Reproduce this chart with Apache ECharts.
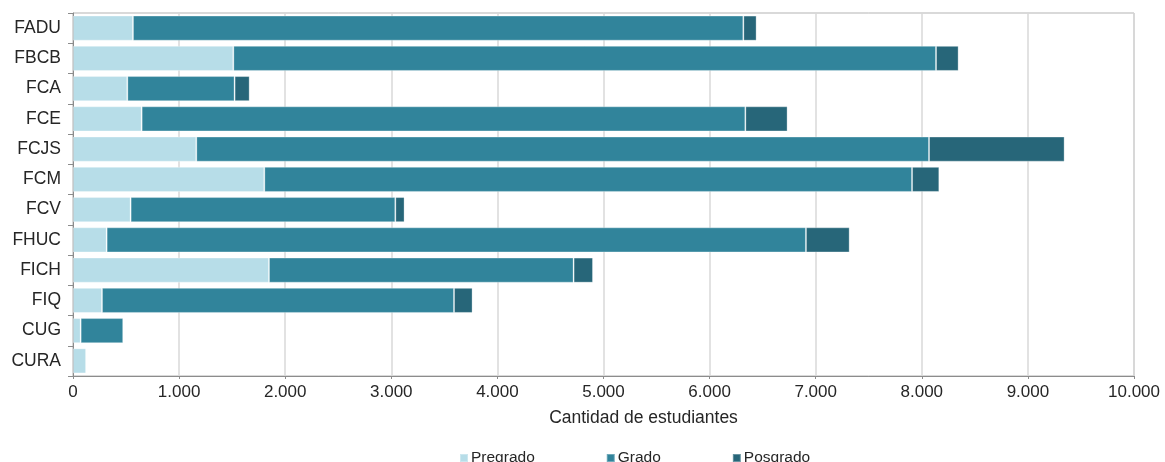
<!DOCTYPE html>
<html>
<head>
<meta charset="utf-8">
<script src="https://cdn.jsdelivr.net/npm/echarts@6/dist/echarts.min.js"></script>
<style>
    html, body { margin: 0; padding: 0; background: #fff; }
    #chart { width: 1165px; height: 462px; }
</style>
</head>
<body>
<div id="chart"></div>
<script>
var facultades = ['FADU', 'FBCB', 'FCA', 'FCE', 'FCJS', 'FCM', 'FCV', 'FHUC', 'FICH', 'FIQ', 'CUG', 'CURA'];
var pregrado = [565, 1511, 512, 647, 1162, 1803, 543, 317, 1847, 273, 72, 125];
var grado = [5753, 6623, 1011, 5690, 6906, 6105, 2495, 6591, 2871, 3318, 402, 0];
var posgrado = [125, 213, 142, 398, 1278, 257, 87, 412, 183, 175, 0, 0];

var colores = {
    pregrado: '#b7dde8',
    grado: '#31849b',
    posgrado: '#276679'
};

function miles(v) {
    return String(v).replace(/\B(?=(\d{3})+(?!\d))/g, '.');
}

function serie(nombre, datos, color) {
    return {
        name: nombre,
        type: 'bar',
        stack: 'total',
        barCategoryGap: '17%',
        itemStyle: {
            color: color,
            borderColor: 'rgba(255,255,255,0.3)',
            borderWidth: 1
        },
        data: datos
    };
}

var myChart = echarts.init(document.getElementById('chart'));

var option = {
    animation: false,
    textStyle: { fontFamily: 'Liberation Sans, Arial, sans-serif' },
    grid: {
        left: 73,
        right: 31,
        top: 13,
        bottom: 86,
        show: true,
        borderColor: '#b3b3b3',
        borderWidth: 1
    },
    legend: {
        left: 454,
        top: 445,
        icon: 'rect',
        itemWidth: 8,
        itemHeight: 8,
        itemGap: 71,
        textStyle: { fontSize: 15.5, color: '#262626', padding: [0, 0, 0, -2] },
        data: ['Pregrado', 'Grado', 'Posgrado']
    },
    xAxis: {
        type: 'value',
        min: 0,
        max: 10000,
        interval: 1000,
        name: 'Cantidad de estudiantes',
        nameLocation: 'middle',
        nameGap: 33,
        nameTextStyle: { fontSize: 17.5, color: '#262626', padding: [0, 0, 0, 80] },
        axisLine: { show: true, lineStyle: { color: '#8c8c8c' } },
        axisTick: { show: true, length: 3, lineStyle: { color: '#8c8c8c' } },
        axisLabel: { fontSize: 17, color: '#262626', margin: 8, formatter: miles },
        splitLine: { lineStyle: { color: '#d9d9d9', width: 1.5 } }
    },
    yAxis: {
        type: 'category',
        inverse: true,
        data: facultades,
        axisLine: { show: true, lineStyle: { color: '#8c8c8c' } },
        axisTick: { show: true, length: 5, lineStyle: { color: '#8c8c8c' } },
        axisLabel: { fontSize: 17.5, color: '#262626', margin: 12 }
    },
    series: [
        serie('Pregrado', pregrado, colores.pregrado),
        serie('Grado', grado, colores.grado),
        serie('Posgrado', posgrado, colores.posgrado)
    ]
};

myChart.setOption(option);
</script>
</body>
</html>
